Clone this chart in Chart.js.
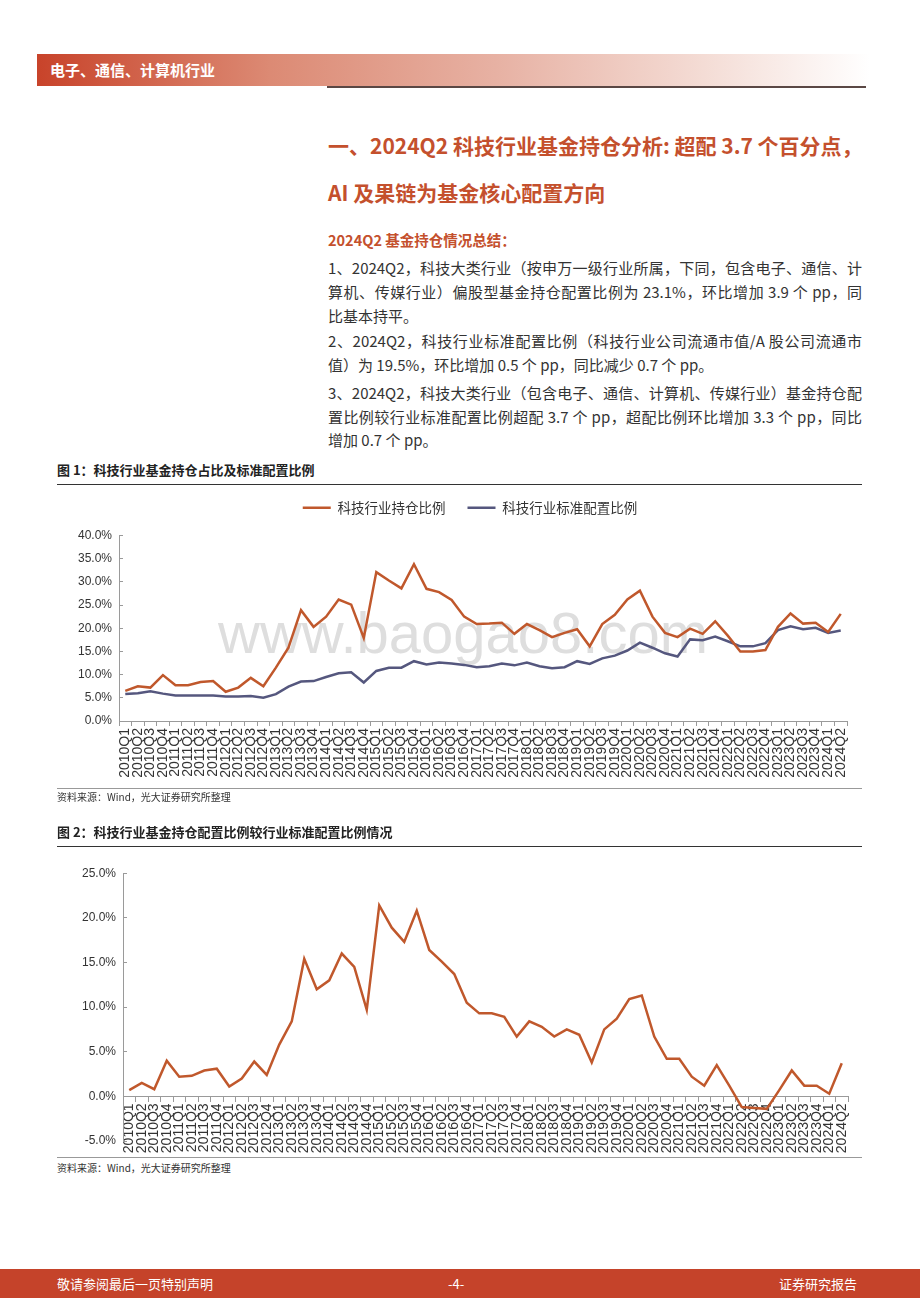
<!DOCTYPE html>
<html lang="zh-CN">
<head>
<meta charset="UTF-8">
<title>电子、通信、计算机行业</title>
<script src="https://cdn.jsdelivr.net/npm/chart.js@4.4.1/dist/chart.umd.min.js"></script>
<style>
    * { margin: 0; padding: 0; box-sizing: border-box; }
    body {
        width: 920px; height: 1302px; position: relative; overflow: hidden; background: #fff;
        font-family: "Noto Sans CJK SC", "Noto Sans", sans-serif; color: #333;
    }
    .abs { position: absolute; }
    .header-band {
        left: 37px; top: 54px; width: 833px; height: 32px;
        background: linear-gradient(to right, #c8432a 0%, #dc8a74 28%, #e7b1a3 55%, #f4dcd5 80%, #ffffff 100%);
        color: #fff; font-size: 15px; font-weight: bold; line-height: 32px; padding-left: 13px;
    }
    .header-rule { left: 327px; top: 86px; width: 539px; height: 1.5px; background: #5a4744; }
    .title { left: 328px; font-size: 21px; font-weight: bold; color: #c4502d; line-height: 28px; white-space: nowrap; }
    .subtitle { left: 328px; top: 230px; font-size: 14.5px; font-weight: bold; color: #c4502d; line-height: 20px; }
    .para { left: 328px; width: 534px; font-size: 15px; color: #333; line-height: 24px; }
    .para span { display: block; text-align: justify; text-align-last: justify; white-space: nowrap; }
    .para span.last { text-align-last: left; }
    .caption { left: 57px; font-size: 13px; font-weight: bold; color: #222; line-height: 18px; }
    .rule { left: 57px; width: 805px; height: 1.2px; background: #333; }
    .rule.thin { height: 1px; background: #999; }
    .source { left: 57px; font-size: 10px; color: #333; line-height: 12px; }
    .chart-box { left: 57px; width: 805px; }
    .watermark {
        left: 218px; top: 604px; font-size: 58px; line-height: 58px; color: #dedede;
        font-family: "Liberation Sans", Arial, sans-serif; white-space: nowrap;
    }
    .footer {
        left: 0; top: 1269px; width: 920px; height: 29px; background: #c5432a;
        color: #fff; font-size: 13px; line-height: 29px;
    }
    .footer div { position: absolute; top: 0; }
</style>
</head>
<body>

<div class="abs header-band">电子、通信、计算机行业</div>
<div class="abs header-rule"></div>

<div class="abs title" style="top:131px">一、2024Q2 科技行业基金持仓分析: 超配 3.7 个百分点，</div>
<div class="abs title" style="top:178px">AI 及果链为基金核心配置方向</div>
<div class="abs subtitle">2024Q2 基金持仓情况总结：</div>

<div class="abs para" style="top:256px">
    <span>1、2024Q2，科技大类行业（按申万一级行业所属，下同，包含电子、通信、计</span>
    <span>算机、传媒行业）偏股型基金持仓配置比例为 23.1%，环比增加 3.9 个 pp，同</span>
    <span class="last">比基本持平。</span>
</div>
<div class="abs para" style="top:329px">
    <span>2、2024Q2，科技行业标准配置比例（科技行业公司流通市值/A 股公司流通市</span>
    <span class="last">值）为 19.5%，环比增加 0.5 个 pp，同比减少 0.7 个 pp。</span>
</div>
<div class="abs para" style="top:381px; line-height:23.5px">
    <span>3、2024Q2，科技大类行业（包含电子、通信、计算机、传媒行业）基金持仓配</span>
    <span>置比例较行业标准配置比例超配 3.7 个 pp，超配比例环比增加 3.3 个 pp，同比</span>
    <span class="last">增加 0.7 个 pp。</span>
</div>

<!-- 图 1 -->
<div class="abs caption" style="top:461px">图 1：科技行业基金持仓占比及标准配置比例</div>
<div class="abs rule" style="top:484px"></div>
<div class="abs watermark">www.baogao8.com</div>
<div class="abs chart-box" style="top:479px; height:311px">
    <canvas id="holdingChart" width="805" height="311"></canvas>
</div>
<div class="abs rule thin" style="top:788px"></div>
<div class="abs source" style="top:791px">资料来源：Wind，光大证券研究所整理</div>

<!-- 图 2 -->
<div class="abs caption" style="top:823px">图 2：科技行业基金持仓配置比例较行业标准配置比例情况</div>
<div class="abs rule" style="top:846px"></div>
<div class="abs chart-box" style="top:855px; height:305px">
    <canvas id="overweightChart" width="805" height="305"></canvas>
</div>
<div class="abs rule thin" style="top:1157px"></div>
<div class="abs source" style="top:1162px">资料来源：Wind，光大证券研究所整理</div>

<div class="abs footer">
    <div style="left:57px">敬请参阅最后一页特别声明</div>
    <div style="left:448px">-4-</div>
    <div style="left:779px">证券研究报告</div>
</div>

<script>
// ========== 数据 ==========
const quarters = [
    '2010Q1', '2010Q2', '2010Q3', '2010Q4', '2011Q1', '2011Q2', '2011Q3', '2011Q4',
    '2012Q1', '2012Q2', '2012Q3', '2012Q4', '2013Q1', '2013Q2', '2013Q3', '2013Q4',
    '2014Q1', '2014Q2', '2014Q3', '2014Q4', '2015Q1', '2015Q2', '2015Q3', '2015Q4',
    '2016Q1', '2016Q2', '2016Q3', '2016Q4', '2017Q1', '2017Q2', '2017Q3', '2017Q4',
    '2018Q1', '2018Q2', '2018Q3', '2018Q4', '2019Q1', '2019Q2', '2019Q3', '2019Q4',
    '2020Q1', '2020Q2', '2020Q3', '2020Q4', '2021Q1', '2021Q2', '2021Q3', '2021Q4',
    '2022Q1', '2022Q2', '2022Q3', '2022Q4', '2023Q1', '2023Q2', '2023Q3', '2023Q4',
    '2024Q1', '2024Q2'
];

// 科技行业持仓比例（%）
const holdingRatio = [
    6.5, 7.5, 7.2, 9.9, 7.7, 7.7, 8.4, 8.6, 6.3, 7.2, 9.3, 7.5, 11.5, 15.8, 23.9, 20.3,
    22.5, 26.2, 25.1, 17.9, 32.1, 30.3, 28.6, 33.8, 28.5, 27.8, 26.1, 22.5, 20.9, 21.0,
    21.2, 18.8, 20.9, 19.6, 18.1, 19.0, 19.8, 16.1, 20.9, 22.9, 26.2, 28.1, 22.5, 19.0,
    18.1, 19.9, 18.8, 21.5, 18.4, 15.0, 15.0, 15.3, 20.3, 23.2, 21.0, 21.2, 19.2, 23.1
];

// 科技行业标准配置比例（%）
const standardRatio = [
    5.8, 6.0, 6.4, 5.9, 5.5, 5.5, 5.5, 5.5, 5.3, 5.3, 5.4, 5.0, 5.8, 7.4, 8.5, 8.6,
    9.5, 10.3, 10.5, 8.3, 10.8, 11.5, 11.5, 12.9, 12.2, 12.6, 12.4, 12.1, 11.6, 11.8,
    12.4, 12.0, 12.6, 11.8, 11.4, 11.6, 12.9, 12.3, 13.5, 14.1, 15.2, 16.9, 15.8, 14.6,
    13.9, 17.6, 17.4, 18.2, 17.2, 16.1, 16.1, 16.8, 19.6, 20.4, 19.8, 20.1, 19.0, 19.5
];

// 超配比例（%）
const overweightRatio = [
    0.7, 1.5, 0.8, 4.0, 2.2, 2.3, 2.9, 3.1, 1.1, 2.0, 3.9, 2.4, 5.8, 8.4, 15.4, 12.0,
    13.0, 16.0, 14.5, 9.7, 21.4, 18.9, 17.3, 20.8, 16.4, 15.1, 13.7, 10.5, 9.3, 9.3,
    8.9, 6.7, 8.4, 7.8, 6.7, 7.5, 6.9, 3.8, 7.5, 8.7, 10.9, 11.3, 6.7, 4.2,
    4.2, 2.2, 1.2, 3.5, 1.2, -1.2, -1.3, -1.4, 0.7, 2.9, 1.2, 1.2, 0.3, 3.7
];

const seriesNames = ['科技行业持仓比例', '科技行业标准配置比例'];
const holdingTicks = [0, 5, 10, 15, 20, 25, 30, 35, 40];
const overweightTicks = [-5, 0, 5, 10, 15, 20, 25];

// ========== 通用样式 ==========
const ORANGE = '#c0582c';
const PURPLE = '#55577e';
const AXIS = '#9a9a9a';
const LATIN = "'Liberation Sans', Arial, sans-serif";
const CJK = "'Noto Sans CJK SC', sans-serif";

Chart.defaults.color = '#333';
Chart.defaults.font.family = LATIN;
Chart.defaults.animation = false;

function pctLabel(v) {
    return Number(v).toFixed(1) + '%';
}

function xScale(extra) {
    return Object.assign({
        offset: true,
        grid: { offset: true, drawOnChartArea: false, tickLength: 5, color: AXIS },
        border: { color: AXIS },
        ticks: { autoSkip: false, minRotation: 90, maxRotation: 90, padding: 2, font: { size: 14 } }
    }, extra);
}

function yScale(ticks, width) {
    return {
        min: ticks[0],
        max: ticks[ticks.length - 1],
        grid: { drawOnChartArea: false, tickLength: -4, color: AXIS },
        border: { color: AXIS },
        ticks: { stepSize: ticks[1] - ticks[0], padding: 11, font: { size: 12 }, callback: pctLabel },
        afterFit: s => { s.width = width; }
    };
}

// 图例：下方留白，并整体右移
const legendTweak = {
    id: 'legendTweak',
    beforeInit(chart) {
        const fit = chart.legend.fit;
        chart.legend.fit = function () {
            fit.call(this);
            this.height += 11;
        };
    },
    afterLayout(chart) {
        chart.legend.left += 18;
        chart.legend.right += 18;
    }
};

// ========== 图 1：持仓占比及标准配置比例 ==========
new Chart(document.getElementById('holdingChart'), {
    type: 'line',
    data: {
        labels: quarters,
        datasets: [
            { label: seriesNames[0], data: holdingRatio, borderColor: ORANGE, backgroundColor: ORANGE,
              borderWidth: 2.5, pointRadius: 0, tension: 0 },
            { label: seriesNames[1], data: standardRatio, borderColor: PURPLE, backgroundColor: PURPLE,
              borderWidth: 2.5, pointRadius: 0, tension: 0 }
        ]
    },
    options: {
        responsive: false,
        layout: { padding: { top: 0, right: 15, bottom: 0, left: 0 } },
        plugins: {
            legend: {
                position: 'top',
                labels: {
                    usePointStyle: true, pointStyle: 'line', pointStyleWidth: 28,
                    padding: 22, color: '#333', font: { family: CJK, size: 13.5 }
                }
            },
            tooltip: { enabled: false }
        },
        scales: {
            x: xScale({ afterFit: s => { s.height = 69; } }),
            y: yScale(holdingTicks, 62)
        }
    },
    plugins: [legendTweak]
});

// ========== 图 2：超配比例 ==========
new Chart(document.getElementById('overweightChart'), {
    type: 'line',
    data: {
        labels: quarters,
        datasets: [
            { label: '超配比例', data: overweightRatio, borderColor: ORANGE, backgroundColor: ORANGE,
              borderWidth: 2.5, pointRadius: 0, tension: 0 }
        ]
    },
    options: {
        responsive: false,
        layout: { padding: { top: 14, right: 14, bottom: 19, left: 0 } },
        plugins: { legend: { display: false }, tooltip: { enabled: false } },
        scales: {
            x: xScale({ position: { y: 0 } }),
            y: yScale(overweightTicks, 66)
        }
    }
});
</script>
</body>
</html>
